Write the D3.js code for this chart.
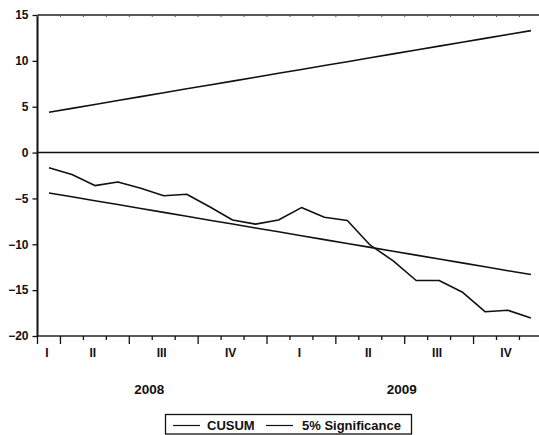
<!DOCTYPE html>
<html>
<head>
<meta charset="utf-8">
<script src="https://cdn.jsdelivr.net/npm/d3@7/dist/d3.min.js"></script>
<style>
  body { margin: 0; background: #fff; }
  svg text { font-family: "Liberation Sans", Arial, sans-serif; font-weight: bold; fill: #111; }
</style>
</head>
<body>
<div id="chart"></div>
<script>
// monthly observations, 2008M03 .. 2009M12
var months = ['2008M03','2008M04','2008M05','2008M06','2008M07','2008M08','2008M09','2008M10','2008M11','2008M12',
              '2009M01','2009M02','2009M03','2009M04','2009M05','2009M06','2009M07','2009M08','2009M09','2009M10','2009M11','2009M12'];

var cusum = [-1.65, -2.4, -3.6, -3.2, -3.9, -4.7, -4.55, -5.9, -7.35, -7.8, -7.35,
             -6.0, -7.05, -7.4, -10.1, -11.8, -13.95, -13.95, -15.2, -17.35, -17.2, -18.05];

var upper5 = [4.40, 4.82, 5.25, 5.67, 6.10, 6.52, 6.95, 7.37, 7.79, 8.22, 8.64,
              9.06, 9.49, 9.91, 10.34, 10.76, 11.18, 11.61, 12.03, 12.45, 12.88, 13.30];
var lower5 = [-4.40, -4.82, -5.25, -5.67, -6.10, -6.52, -6.95, -7.37, -7.79, -8.22, -8.64,
              -9.06, -9.49, -9.91, -10.34, -10.76, -11.18, -11.61, -12.03, -12.45, -12.88, -13.30];

var yTicks = [15, 10, 5, 0, -5, -10, -15, -20];
var quarterLabels = ['I', 'II', 'III', 'IV'];
var years = ['2008', '2009'];
var legendNames = ['CUSUM', '5% Significance'];

var W = 539, H = 435;
var plotL = 37.5, plotR = 542.4, plotT = 15, plotB = 336;

var svg = d3.select('#chart').append('svg')
    .attr('width', W).attr('height', H);

var x = d3.scaleLinear().domain([0, months.length]).range([plotL, plotR]);
var y = d3.scaleLinear().domain([-20, 15]).range([plotB, plotT]);

var line = d3.line()
    .x(function(d, i) { return x(i + 0.5); })
    .y(function(d) { return y(d); });

// frame: top and bottom lines, left axis
svg.append('line').attr('x1', plotL).attr('x2', W).attr('y1', plotT).attr('y2', plotT)
    .attr('stroke', '#222').attr('stroke-width', 1.5);
svg.append('line').attr('x1', plotL).attr('x2', W).attr('y1', plotB).attr('y2', plotB)
    .attr('stroke', '#222').attr('stroke-width', 1.5);
svg.append('line').attr('x1', plotL).attr('x2', plotL).attr('y1', plotT).attr('y2', plotB)
    .attr('stroke', '#111').attr('stroke-width', 2);

// zero line
svg.append('line').attr('x1', plotL).attr('x2', W).attr('y1', y(0)).attr('y2', y(0))
    .attr('stroke', '#111').attr('stroke-width', 1.5);

// y axis
var yAxis = d3.axisLeft(y).tickValues(yTicks).tickSize(5).tickPadding(4);
var yg = svg.append('g').attr('transform', 'translate(' + plotL + ',0)').call(yAxis);
yg.select('.domain').remove();
yg.selectAll('.tick line').attr('stroke', '#111').attr('stroke-width', 1.3);
yg.selectAll('.tick text').style('font-size', '12px').style('font-family', '"Liberation Sans", Arial, sans-serif')
    .style('font-weight', 'bold').attr('fill', '#111');

// month ticks, longer at quarter starts
var boundaries = d3.range(0, months.length + 1);
function isQuarterStart(i) {
    if (i == 0) return true;
    if (i >= months.length) return false;
    var m = +months[i].slice(5);
    return (m - 1) % 3 == 0;
}
svg.append('g').selectAll('line').data(boundaries).enter().append('line')
    .attr('x1', function(d) { return x(d); }).attr('x2', function(d) { return x(d); })
    .attr('y1', plotB).attr('y2', function(d) { return plotB + (isQuarterStart(d) ? 8 : 4); })
    .attr('stroke', '#111').attr('stroke-width', 1.3);
svg.append('g').selectAll('line').data(boundaries).enter().append('line')
    .attr('x1', function(d) { return x(d); }).attr('x2', function(d) { return x(d); })
    .attr('y1', plotT).attr('y2', plotT + 2)
    .attr('stroke', '#555').attr('stroke-width', 1);

// quarter labels centred on the months they cover
var quarters = [];
months.forEach(function(m, i) {
    var yr = m.slice(0, 4), q = Math.floor((+m.slice(5) - 1) / 3);
    var last = quarters[quarters.length - 1];
    if (last && last.yr == yr && last.q == q) { last.end = i + 1; }
    else quarters.push({ yr: yr, q: q, start: i, end: i + 1 });
});
svg.append('g').selectAll('text').data(quarters).enter().append('text')
    .attr('x', function(d) { return x((d.start + d.end) / 2) - 2; })
    .attr('y', 357)
    .attr('text-anchor', 'middle')
    .style('font-size', '12px')
    .text(function(d) { return quarterLabels[d.q]; });

// year labels
svg.append('g').selectAll('text').data(years).enter().append('text')
    .attr('x', function(yr) {
        var idx = months.map(function(m, i) { return m.slice(0, 4) == yr ? i : -1; })
                        .filter(function(i) { return i >= 0; });
        return (x(idx[0]) + x(idx[idx.length - 1] + 1)) / 2 - 3;
    })
    .attr('y', 394)
    .attr('text-anchor', 'middle')
    .style('font-size', '13.5px')
    .text(function(d) { return d; });

// series
svg.append('path').datum(upper5).attr('d', line)
    .attr('fill', 'none').attr('stroke', '#111').attr('stroke-width', 1.6);
svg.append('path').datum(lower5).attr('d', line)
    .attr('fill', 'none').attr('stroke', '#111').attr('stroke-width', 1.6);
svg.append('path').datum(cusum).attr('d', line)
    .attr('fill', 'none').attr('stroke', '#111').attr('stroke-width', 1.6)
    .attr('stroke-linejoin', 'round');

// legend
var lg = svg.append('g');
lg.append('rect').attr('x', 165.5).attr('y', 414.5).attr('width', 246).attr('height', 19.5)
    .attr('fill', 'none').attr('stroke', '#111').attr('stroke-width', 1.3);
var legendItems = [{ name: legendNames[0], lx: 173, tx: 207 }, { name: legendNames[1], lx: 266, tx: 302 }];
legendItems.forEach(function(d) {
    lg.append('line').attr('x1', d.lx).attr('x2', d.lx + 27).attr('y1', 425.5).attr('y2', 425.5)
        .attr('stroke', '#111').attr('stroke-width', 1.2);
    lg.append('text').attr('x', d.tx).attr('y', 430).style('font-size', '13px').text(d.name);
});
</script>
</body>
</html>
